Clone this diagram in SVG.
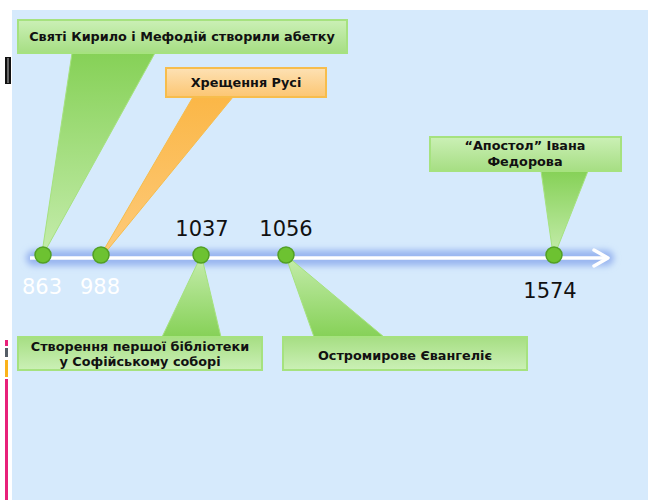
<svg xmlns="http://www.w3.org/2000/svg" width="648" height="500" viewBox="0 0 648 500">
<style>
.lbl{font-family:"DejaVu Sans","Liberation Sans",sans-serif;font-weight:bold;font-size:12.8px;fill:#111;text-anchor:middle}
.yr{font-family:"DejaVu Sans","Liberation Sans",sans-serif;font-size:21px;text-anchor:middle}
.gbox{stroke:#a6e27f;stroke-width:2}
.obox{stroke:#f7bd4c;stroke-width:2}
.dot{fill:#6dc231;stroke:#52a024;stroke-width:1.5}
</style>
<defs>
<linearGradient id="gDown" x1="0" y1="0" x2="0" y2="1"><stop offset="0" stop-color="#cbf0b6"/><stop offset="1" stop-color="#a6de83"/></linearGradient>
<linearGradient id="gUp" x1="0" y1="0" x2="0" y2="1"><stop offset="0" stop-color="#a6de83"/><stop offset="1" stop-color="#cbf0b6"/></linearGradient>
<linearGradient id="oBox" x1="0" y1="0" x2="0" y2="1"><stop offset="0" stop-color="#fde1b4"/><stop offset="1" stop-color="#fcc672"/></linearGradient>
<linearGradient id="tDown" x1="0" y1="0" x2="0" y2="1"><stop offset="0" stop-color="#86d157"/><stop offset="1" stop-color="#c4ecab"/></linearGradient>
<linearGradient id="tUp" x1="0" y1="1" x2="0" y2="0"><stop offset="0" stop-color="#86d157"/><stop offset="1" stop-color="#c4ecab"/></linearGradient>
<linearGradient id="tOr" x1="0" y1="0" x2="0" y2="1"><stop offset="0" stop-color="#fbb747"/><stop offset="1" stop-color="#fdca7a"/></linearGradient>
<filter id="blur" x="-10%" y="-100%" width="120%" height="300%"><feGaussianBlur stdDeviation="3"/></filter>
</defs>
<rect x="12" y="10" width="636" height="490" fill="#d6eafc"/>
<rect x="5" y="57" width="6" height="27" fill="#111"/>
<rect x="7" y="58" width="2" height="25" fill="#666"/>
<rect x="5" y="340" width="3" height="6" fill="#e8207a"/>
<rect x="5" y="348" width="3" height="9" fill="#555d66"/>
<rect x="5" y="360" width="3" height="17" fill="#fbb21a"/>
<rect x="5" y="379" width="3" height="121" fill="#e8207a"/>
<g id="timeline">
<rect x="26" y="250" width="588" height="16" rx="8" fill="#9ab6f0" filter="url(#blur)"/>
<line x1="30" y1="258" x2="607" y2="258" stroke="#fff" stroke-width="3.5"/>
<polyline points="594,250 608,258 594,266" fill="none" stroke="#fff" stroke-width="3.5" stroke-linecap="round" stroke-linejoin="round"/>
</g>
<g id="connectors">
<polygon points="72,53 155,53 44,253 42,253" fill="url(#tDown)" stroke="#a6e27f" stroke-width="1"/>
<polygon points="193,97 233,97 105,253 102,253" fill="url(#tOr)" stroke="#f7bd4c" stroke-width="1"/>
<polygon points="162,337 221,337 202,258 200,258" fill="url(#tUp)" stroke="#a6e27f" stroke-width="1"/>
<polygon points="314,337 384,337 288,257 286,257" fill="url(#tUp)" stroke="#a6e27f" stroke-width="1"/>
<polygon points="541,171 588,171 555,254 553,254" fill="url(#tDown)" stroke="#a6e27f" stroke-width="1"/>
</g>
<g id="n863">
<rect class="gbox" x="18" y="20" width="329" height="33" fill="url(#gDown)"/>
<text class="lbl" x="182" y="41">Святі Кирило і Мефодій створили абетку</text>
<circle class="dot" cx="43" cy="255" r="8"/>
<text class="yr" x="42" y="294" fill="#fff">863</text>
</g>
<g id="n988">
<rect class="obox" x="166" y="68" width="160" height="29" fill="url(#oBox)"/>
<text class="lbl" x="246" y="87">Хрещення Русі</text>
<circle class="dot" cx="101" cy="255" r="8"/>
<text class="yr" x="100" y="294" fill="#fff">988</text>
</g>
<g id="n1037">
<rect class="gbox" x="18" y="337" width="244" height="33" fill="url(#gUp)"/>
<text class="lbl" x="140" y="351">Створення першої бібліотеки</text>
<text class="lbl" x="140" y="366">у Софійському соборі</text>
<circle class="dot" cx="201" cy="255" r="8"/>
<text class="yr" x="202" y="236" fill="#111">1037</text>
</g>
<g id="n1056">
<rect class="gbox" x="283" y="337" width="244" height="33" fill="url(#gUp)"/>
<text class="lbl" x="405" y="360">Остромирове Євангеліє</text>
<circle class="dot" cx="286" cy="255" r="8"/>
<text class="yr" x="286" y="236" fill="#111">1056</text>
</g>
<g id="n1574">
<rect class="gbox" x="430" y="137" width="191" height="34" fill="url(#gDown)"/>
<text class="lbl" x="525" y="150">“Апостол” Івана</text>
<text class="lbl" x="525" y="166">Федорова</text>
<circle class="dot" cx="554" cy="255" r="8"/>
<text class="yr" x="550" y="298" fill="#111">1574</text>
</g>
</svg>
